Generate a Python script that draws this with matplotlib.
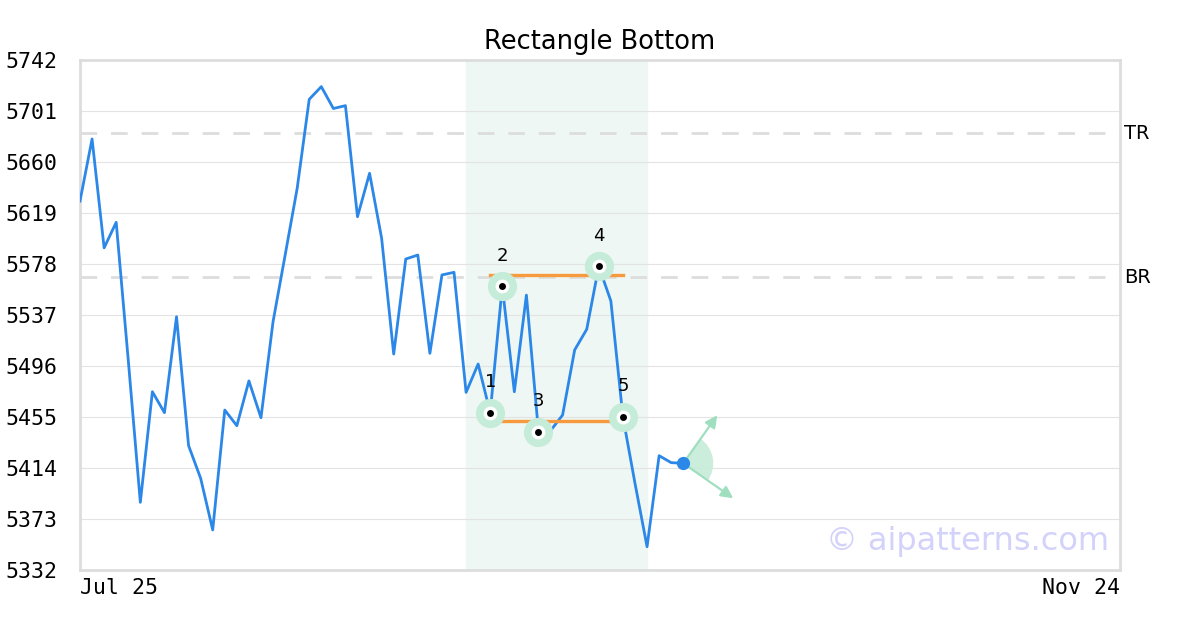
import numpy as np
import matplotlib
matplotlib.use("Agg")
from matplotlib import pyplot as plt
from matplotlib import patches, transforms

# price series (one value per bar)
prices = [5628.6, 5678.5, 5591.0, 5611.5, 5500.8, 5386.4, 5475.3, 5458.5, 5535.6, 5432.0,
          5405.7, 5364.2, 5460.6, 5448.0, 5484.0, 5454.4, 5531.6, 5585.0, 5638.8, 5710.4,
          5720.6, 5703.0, 5705.3, 5616.0, 5650.9, 5598.7, 5505.6, 5582.0, 5585.2, 5506.2,
          5569.2, 5571.3, 5474.8, 5497.6, 5458.5, 5560.0, 5475.3, 5553.0, 5443.2, 5444.0,
          5456.6, 5508.9, 5525.5, 5576.1, 5548.3, 5455.0, 5401.7, 5350.7, 5423.9, 5418.3,
          5417.8]
n_slots = 86.2

# pattern pivots
pivot_idx = [34, 35, 38, 43, 45]
pivot_labels = ["1", "2", "3", "4", "5"]

# rectangle levels
rect_start, rect_end = 34, 45
rect_top, rect_bottom = 5569.3, 5451.8
zone_start, zone_end = 32, 47

tr_level, br_level = 5683.3, 5567.5

yticks = [5332, 5373, 5414, 5455, 5496, 5537, 5578, 5619, 5660, 5701, 5742]
xtick_labels = ["Jul 25", "Nov 24"]

blue = "#2b87e8"
green = "#9fdfc0"

fig = plt.figure(figsize=(12, 6.3), dpi=100)
ax = fig.add_axes([80 / 1200, 60 / 630, 1040 / 1200, 510 / 630])

x = np.arange(len(prices))

ax.axvspan(zone_start, zone_end, color="#eef7f3", zorder=0)

for lvl in yticks:
    ax.axhline(lvl, color="#e3e3e3", lw=0.8, zorder=1)

ax.axhline(tr_level, color="#dddddd", lw=2, ls=(0, (6, 5)), zorder=1)
ax.axhline(br_level, color="#dddddd", lw=2, ls=(0, (6, 5)), zorder=1)
ax.text(1.004, (tr_level - 5332) / 410, "TR", transform=ax.transAxes,
        fontsize=14, va="center", ha="left")
ax.text(1.004, (br_level - 5332) / 410, "BR", transform=ax.transAxes,
        fontsize=14, va="center", ha="left")

ax.plot(x, prices, color=blue, lw=2, zorder=3)

ax.plot([rect_start, rect_end], [rect_top, rect_top], color="#f79a3e", lw=2.4, zorder=4)
ax.plot([rect_start, rect_end], [rect_bottom, rect_bottom], color="#f79a3e", lw=2.4, zorder=4)

for i, lab in zip(pivot_idx, pivot_labels):
    ax.plot(i, prices[i], "o", ms=21, color="#c5ebd9", mec="none", zorder=5)
    ax.plot(i, prices[i], "o", ms=10, color="white", mec="none", zorder=6)
    ax.plot(i, prices[i], "o", ms=5, color="black", mec="none", zorder=7)
    ax.annotate(lab, (i, prices[i]), xytext=(0, 22), textcoords="offset points",
                ha="center", va="center", fontsize=13, zorder=8)

# projection fan at the last bar
last = len(prices) - 1
trans = fig.dpi_scale_trans + transforms.ScaledTranslation(last, prices[last], ax.transData)
ax.add_patch(patches.Wedge((0, 0), 0.30, -35, 55, transform=trans,
                           color="#c6ecd9", alpha=0.9, zorder=4, lw=0))
ax.annotate("", (last, prices[last]), xytext=(24.5, 34.6), textcoords="offset points",
            arrowprops=dict(arrowstyle="<|-", color=green, lw=1.6, mutation_scale=18,
                            shrinkA=0, shrinkB=0), zorder=4)
ax.annotate("", (last, prices[last]), xytext=(36, -25.2), textcoords="offset points",
            arrowprops=dict(arrowstyle="<|-", color=green, lw=1.6, mutation_scale=18,
                            shrinkA=0, shrinkB=0), zorder=4)
ax.plot(last, prices[last], "o", ms=8.5, color=blue, zorder=6)

ax.text(0.99, 0.055, "© aipatterns.com", transform=ax.transAxes, ha="right", va="center",
        fontsize=23, color="#d2d2fb", zorder=9)

ax.set_xlim(0, n_slots)
ax.set_ylim(yticks[0], yticks[-1])
ax.set_yticks(yticks)
ax.set_yticklabels([str(t) for t in yticks], fontfamily="DejaVu Sans Mono", fontsize=15.5)
ax.set_xticks([0, n_slots])
ax.set_xticklabels(xtick_labels, fontfamily="DejaVu Sans Mono", fontsize=15.5)
xl = ax.get_xticklabels()
xl[0].set_ha("left")
xl[1].set_ha("right")
ax.tick_params(axis="y", length=0, pad=16.5)
ax.tick_params(axis="x", length=0, pad=6)

for s in ax.spines.values():
    s.set_color("#dddddd")
    s.set_linewidth(2)

ax.set_title("Rectangle Bottom", fontsize=18.5, pad=8)

fig.savefig("out.png", dpi=100)
